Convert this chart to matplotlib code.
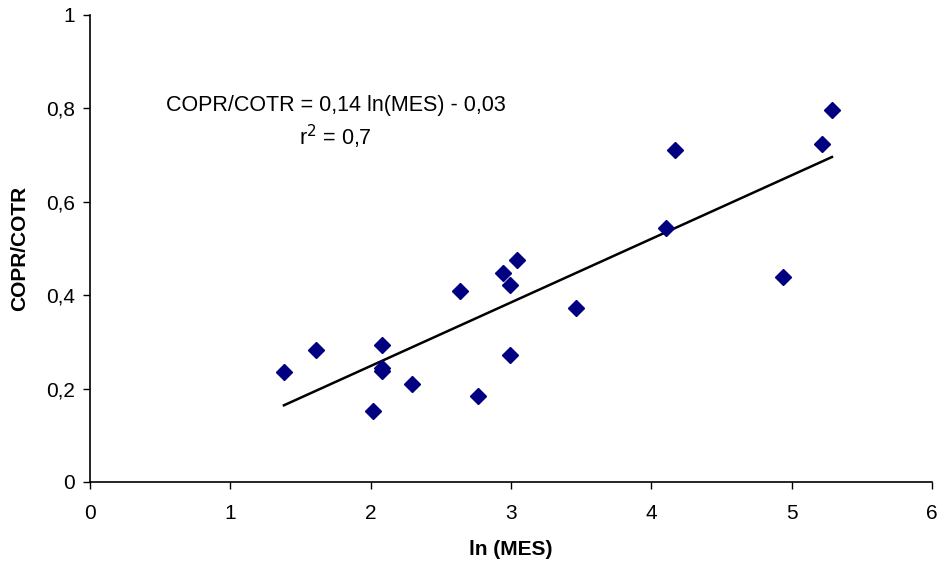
import matplotlib

matplotlib.use("Agg")
import matplotlib.pyplot as plt
import numpy as np

plt.rcParams["font.family"] = ["Liberation Sans", "DejaVu Sans"]

# ln(MES) and COPR/COTR
ln_mes = [1.382, 1.608, 2.079, 2.079, 2.079, 2.015, 2.297, 2.637, 2.767, 2.941,
          2.993, 2.993, 3.041, 3.463, 4.105, 4.171, 4.941, 5.214, 5.287]
copr_cotr = [0.236, 0.283, 0.294, 0.245, 0.238, 0.153, 0.209, 0.410, 0.185, 0.448,
             0.422, 0.272, 0.475, 0.372, 0.543, 0.710, 0.439, 0.724, 0.796]

x_ticks = [0, 1, 2, 3, 4, 5, 6]
y_ticks = [0, 0.2, 0.4, 0.6, 0.8, 1.0]
y_tick_labels = ["0", "0,2", "0,4", "0,6", "0,8", "1"]

x = np.array(ln_mes)
y = np.array(copr_cotr)
slope, intercept = np.polyfit(x, y, 1)
xfit = np.array([x.min(), x.max()])

fig = plt.figure(figsize=(9.4, 5.63), dpi=100)
ax = fig.add_axes([0.0957, 0.1439, 0.8958, 0.8295])

ax.plot(xfit, slope * xfit + intercept, color="black", lw=1.8, zorder=2)
ax.plot(x, y, linestyle="", marker="D", ms=8, color="#000080", zorder=3)

ax.set_xlim(0, 6)
ax.set_ylim(0, 1)
ax.set_xticks(x_ticks)
ax.set_yticks(y_ticks)
ax.set_yticklabels(y_tick_labels)
ax.tick_params(direction="out", length=5, width=1, labelsize=15)
ax.tick_params(axis="y", pad=6)
ax.tick_params(axis="x", pad=11)
for side in ("top", "right"):
    ax.spines[side].set_visible(False)
for side in ("left", "bottom"):
    ax.spines[side].set_linewidth(1.2)

ax.set_xlabel("ln (MES)", fontsize=15, fontweight="bold", labelpad=12)
ax.set_ylabel("COPR/COTR", fontsize=15, fontweight="bold", labelpad=12)

ax.text(1.753, 0.807, "COPR/COTR = 0,14 ln(MES) - 0,03", fontsize=15.5, ha="center", va="center")
ax.text(1.746, 0.739, r"r$^2$ = 0,7", fontsize=15.5, ha="center", va="center")

fig.savefig("out.png", dpi=100)
